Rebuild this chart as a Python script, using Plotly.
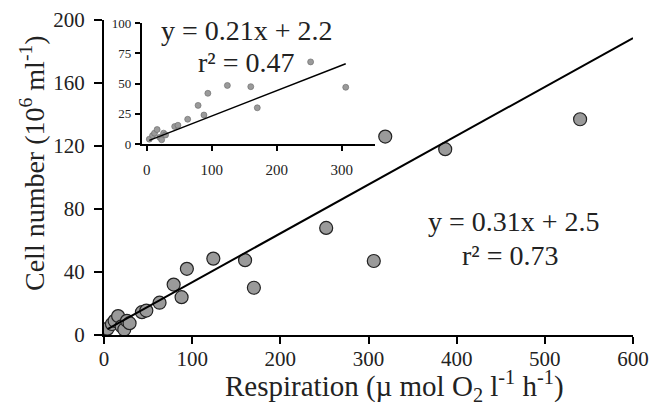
import plotly.graph_objects as go

# Data (respiration in µmol O2 l-1 h-1, cell number in 10^6 ml-1)
resp = [4, 9, 12, 16, 20, 23, 26, 29, 43, 48, 63, 79, 88, 94, 124, 160, 170, 252, 306, 319, 387, 540]
cells = [4, 7, 9, 12, 5.5, 3.5, 9, 7.5, 14.5, 15.5, 20.5, 32, 24, 42, 48.5, 47.5, 30, 68, 47, 126, 118, 137]

# inset uses the points below 310 µmol
inset_resp = resp[:19]
inset_cells = cells[:19]

main_slope, main_intercept, main_r2 = 0.31, 2.5, 0.73
inset_slope, inset_intercept, inset_r2 = 0.21, 2.2, 0.47

main_xticks = [0, 100, 200, 300, 400, 500, 600]
main_yticks = [0, 40, 80, 120, 160, 200]
inset_xticks = [0, 100, 200, 300]
inset_yticks = [0, 25, 50, 75, 100]

FONT = "Liberation Serif"
L, R, T, B = 104, 21, 20, 67
W, H = 654, 402
PW, PH = W - L - R, H - T - B


def px(xp):
    return (xp - L) / PW


def py(yp):
    return (H - B - yp) / PH


fig = go.Figure()

fig.add_trace(go.Scatter(
    x=resp, y=cells, mode="markers",
    marker=dict(size=13, color="#9a9a9a", line=dict(color="#222222", width=1.2)),
    xaxis="x", yaxis="y", showlegend=False))

line_x = [min(resp), 600]
fig.add_trace(go.Scatter(
    x=line_x, y=[main_slope * v + main_intercept for v in line_x], mode="lines",
    line=dict(color="black", width=2), xaxis="x", yaxis="y", showlegend=False))

fig.add_trace(go.Scatter(
    x=inset_resp, y=inset_cells, mode="markers",
    marker=dict(size=6, color="#9a9a9a", line=dict(color="#666666", width=0.6)),
    xaxis="x2", yaxis="y2", showlegend=False))

iline_x = [min(inset_resp), max(inset_resp)]
fig.add_trace(go.Scatter(
    x=iline_x, y=[inset_slope * v + inset_intercept for v in iline_x], mode="lines",
    line=dict(color="black", width=1.5), xaxis="x2", yaxis="y2", showlegend=False))

axis_common = dict(showgrid=False, zeroline=False, showline=True, linecolor="black",
                   ticks="outside", tickcolor="black", automargin=False)

fig.update_layout(
    width=W, height=H,
    margin=dict(l=L, r=R, t=T, b=B),
    paper_bgcolor="white", plot_bgcolor="white",
    font=dict(family=FONT, color="#222222"),
    xaxis=dict(**axis_common, range=[0, 600], tickvals=main_xticks, linewidth=2, ticklen=7, tickwidth=2,
               tickfont=dict(size=21), ticklabelstandoff=-3),
    yaxis=dict(**axis_common, range=[0, 200], tickvals=main_yticks, linewidth=2, ticklen=8, tickwidth=2,
               tickfont=dict(size=21), ticklabelstandoff=5),
    xaxis2=dict(**axis_common, domain=[px(141.7), px(375)], anchor="y2", range=[-7.7, 351],
                tickvals=inset_xticks, linewidth=1.5, ticklen=5, tickwidth=1.5,
                tickfont=dict(size=15), ticklabelstandoff=6),
    yaxis2=dict(**axis_common, domain=[py(144), py(23.3)], anchor="x2", range=[0, 100],
                tickvals=inset_yticks, linewidth=1.5, ticklen=5, tickwidth=1.5,
                tickfont=dict(size=13), ticklabelstandoff=1),
    annotations=[
        dict(text="Respiration (µ mol O<sub>2</sub> l<sup>-1</sup> h<sup>-1</sup>)",
             xref="paper", yref="paper", x=px(394), y=py(386), showarrow=False,
             font=dict(size=29), xanchor="center", yanchor="middle"),
        dict(text="Cell number (10<sup>6</sup> ml<sup>-1</sup>)",
             xref="paper", yref="paper", x=px(32), y=py(163), showarrow=False, textangle=-90,
             font=dict(size=28), xanchor="center", yanchor="middle"),
        dict(text=f"y = {inset_slope}x + {inset_intercept}", xref="paper", yref="paper",
             x=px(246.7), y=py(30), showarrow=False,
             font=dict(size=28), xanchor="center", yanchor="middle"),
        dict(text=f"r² = {inset_r2}", xref="paper", yref="paper",
             x=px(246.7), y=py(63), showarrow=False,
             font=dict(size=28), xanchor="center", yanchor="middle"),
        dict(text=f"y = {main_slope}x + {main_intercept}", xref="paper", yref="paper",
             x=px(514), y=py(221.7), showarrow=False,
             font=dict(size=28), xanchor="center", yanchor="middle"),
        dict(text=f"r² = {main_r2}", xref="paper", yref="paper",
             x=px(510), y=py(255), showarrow=False,
             font=dict(size=28), xanchor="center", yanchor="middle"),
    ],
)

fig.write_html("out.html", config={"displayModeBar": False},
               post_script="document.body.style.margin='0';")
